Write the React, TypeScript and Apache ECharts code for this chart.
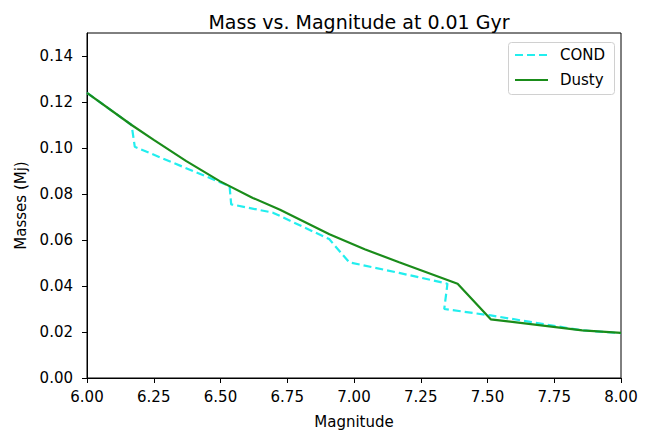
import React, { useEffect, useRef } from "react";
import * as echarts from "echarts";

const xTicks = [6.0, 6.25, 6.5, 6.75, 7.0, 7.25, 7.5, 7.75, 8.0];
const yTicks = [0, 0.02, 0.04, 0.06, 0.08, 0.1, 0.12, 0.14];

const condMag = [6.0, 6.167, 6.179, 6.534, 6.54, 6.696, 6.907, 6.982, 7.169, 7.35, 7.338, 7.512, 7.855, 8.0];
const condMass = [0.124, 0.11, 0.1005, 0.0834, 0.0755, 0.0719, 0.0604, 0.0503, 0.0457, 0.041, 0.03, 0.0272, 0.0207, 0.0195];

const dustyMag = [6.0, 6.167, 6.25, 6.372, 6.497, 6.621, 6.721, 6.908, 7.04, 7.169, 7.388, 7.512, 7.855, 8.0];
const dustyMass = [0.124, 0.11, 0.1035, 0.0943, 0.0856, 0.0783, 0.0733, 0.0625, 0.056, 0.0503, 0.041, 0.0255, 0.0207, 0.0196];

const seriesNames = ["COND", "Dusty"];
const FONT = "DejaVu Sans";
const COND_COLOR = "#22eeee";
const DUSTY_COLOR = "#1a8c1a";

export default function App() {
  const ref = useRef<HTMLDivElement>(null);
  useEffect(() => {
    document.body.style.margin = "0";
    const chart = echarts.init(ref.current!, null, { renderer: "svg" });
    chart.setOption({
      animation: false,
      backgroundColor: "#fff",
      textStyle: { fontFamily: FONT },
      title: {
        text: "Mass vs. Magnitude at 0.01 Gyr",
        left: 354,
        textAlign: "center",
        top: 7,
        textStyle: { fontFamily: FONT, fontSize: 19, fontWeight: "normal", color: "#000" },
      },
      graphic: [
        {
          type: "rect",
          shape: { x: 508.5, y: 42.5, width: 106, height: 52, r: 3 },
          style: { fill: "#fff", stroke: "#d0d0d0", lineWidth: 1 },
          z: 10,
        },
        {
          type: "line",
          shape: { x1: 515, y1: 55, x2: 548, y2: 55 },
          style: { stroke: COND_COLOR, lineWidth: 2.2, lineDash: [8, 4] },
          z: 11,
        },
        {
          type: "line",
          shape: { x1: 515, y1: 80, x2: 548, y2: 80 },
          style: { stroke: DUSTY_COLOR, lineWidth: 2.2 },
          z: 11,
        },
        {
          type: "text",
          x: 560,
          y: 55,
          style: { text: seriesNames[0], font: `15px '${FONT}'`, fill: "#000", verticalAlign: "middle" },
          z: 11,
        },
        {
          type: "text",
          x: 560,
          y: 80,
          style: { text: seriesNames[1], font: `15px '${FONT}'`, fill: "#000", verticalAlign: "middle" },
          z: 11,
        },
      ],
      grid: {
        left: 87,
        right: 32,
        top: 33,
        bottom: 50,
        show: true,
        borderColor: "#000",
        borderWidth: 1,
        backgroundColor: "transparent",
      },
      xAxis: {
        type: "value",
        min: 6,
        max: 8,
        interval: 0.25,
        name: "Magnitude",
        nameLocation: "middle",
        nameGap: 36,
        nameTextStyle: { fontFamily: FONT, fontSize: 15, color: "#000" },
        axisLine: { show: true, lineStyle: { color: "#000", width: 1 } },
        axisTick: { show: true, length: 5, lineStyle: { color: "#000" }, customValues: xTicks },
        axisLabel: {
          customValues: xTicks,
          margin: 11,
          fontFamily: FONT,
          fontSize: 15,
          color: "#000",
          formatter: (v: number) => v.toFixed(2),
        },
        splitLine: { show: false },
      },
      yAxis: {
        type: "value",
        min: 0,
        max: 0.15,
        interval: 0.02,
        name: "Masses (Mj)",
        nameLocation: "middle",
        nameGap: 57,
        nameTextStyle: { fontFamily: FONT, fontSize: 15, color: "#000" },
        axisLine: { show: true, lineStyle: { color: "#000", width: 1 } },
        axisTick: { show: true, length: 5, lineStyle: { color: "#000" }, customValues: yTicks },
        axisLabel: {
          customValues: yTicks,
          margin: 14,
          fontFamily: FONT,
          fontSize: 15,
          color: "#000",
          formatter: (v: number) => v.toFixed(2),
        },
        splitLine: { show: false },
      },
      series: [
        {
          name: seriesNames[0],
          type: "line",
          data: condMag.map((x, i) => [x, condMass[i]]),
          symbol: "none",
          color: COND_COLOR,
          lineStyle: { color: COND_COLOR, width: 2.2, type: [8, 4] },
          clip: true,
          z: 2,
        },
        {
          name: seriesNames[1],
          type: "line",
          data: dustyMag.map((x, i) => [x, dustyMass[i]]),
          symbol: "none",
          color: DUSTY_COLOR,
          lineStyle: { color: DUSTY_COLOR, width: 2.2 },
          clip: true,
          z: 3,
        },
      ],
    });
    return () => chart.dispose();
  }, []);
  return <div ref={ref} style={{ width: 653, height: 434 }} />;
}
